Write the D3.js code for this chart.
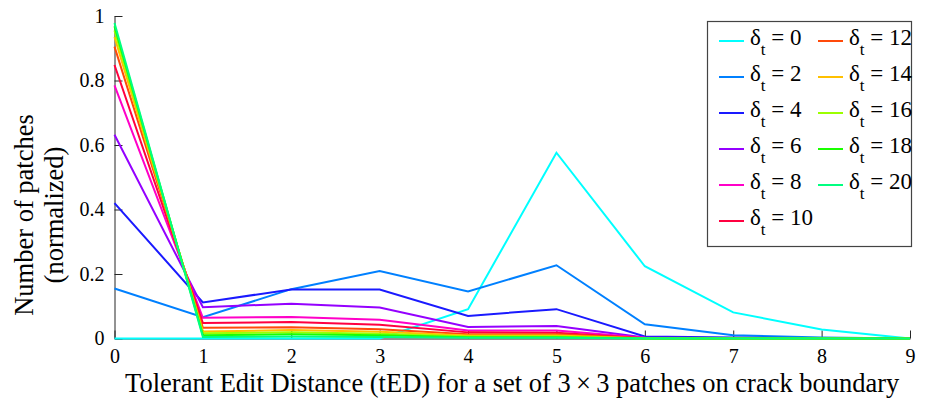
<!DOCTYPE html>
<html>
<head>
<meta charset="utf-8">
<script src="https://cdn.jsdelivr.net/npm/d3@7"></script>
<style>
  body { margin: 0; background: #fff; }
  svg text { font-family: "Liberation Serif", "Times New Roman", serif; }
</style>
</head>
<body>
<svg id="chart" width="926" height="407"></svg>
<script>
// tolerant edit distance bins
const distances = [0, 1, 2, 3, 4, 5, 6, 7, 8, 9];
const yTicks = [0, 0.2, 0.4, 0.6, 0.8, 1];

// normalized patch counts, one array per threshold delta_t
const delta0  = [0, 0, 0, 0, 0.091, 0.576, 0.224, 0.081, 0.028, 0];
const delta2  = [0.155, 0.066, 0.153, 0.209, 0.146, 0.227, 0.044, 0.010, 0.003, 0];
const delta4  = [0.420, 0.112, 0.152, 0.152, 0.070, 0.091, 0.006, 0.003, 0.001, 0];
const delta6  = [0.632, 0.097, 0.108, 0.096, 0.036, 0.039, 0.003, 0.001, 0, 0];
const delta8  = [0.785, 0.064, 0.067, 0.058, 0.025, 0.025, 0.002, 0, 0, 0];
const delta10 = [0.848, 0.048, 0.051, 0.043, 0.019, 0.018, 0.001, 0, 0, 0];
const delta12 = [0.905, 0.033, 0.035, 0.029, 0.013, 0.013, 0.001, 0, 0, 0];
const delta14 = [0.935, 0.022, 0.026, 0.021, 0.009, 0.009, 0, 0, 0, 0];
const delta16 = [0.955, 0.016, 0.019, 0.015, 0.006, 0.006, 0, 0, 0, 0];
const delta18 = [0.968, 0.010, 0.013, 0.010, 0.004, 0.004, 0, 0, 0, 0];
const delta20 = [0.978, 0.005, 0.006, 0.005, 0.002, 0.002, 0, 0, 0, 0];

const thresholds = [0, 2, 4, 6, 8, 10, 12, 14, 16, 18, 20];
const seriesValues = [delta0, delta2, delta4, delta6, delta8, delta10,
                      delta12, delta14, delta16, delta18, delta20];
const colors = ["#00ffff", "#0080ff", "#1a1aff", "#9400ff", "#ff00c8", "#ff0040",
                "#ff4a0a", "#ffc000", "#9cff00", "#1aff00", "#00ff80"];

const serif = '"Liberation Serif", "Times New Roman", serif';

const margin = {top: 16, right: 16, bottom: 68.5, left: 114.5};
const W = 926, H = 407;
const width = W - margin.left - margin.right,
      height = H - margin.top - margin.bottom;

const svg = d3.select("#chart");
const g = svg.append("g").attr("transform", "translate(" + margin.left + "," + margin.top + ")");

const x = d3.scaleLinear().domain([0, 9]).range([0, width]);
const y = d3.scaleLinear().domain([0, 1]).range([height, 0]);

// axes, ticks pointing inward like matlab
const xAxis = g.append("g")
  .call(d3.axisBottom(x).tickValues(distances).tickFormat(d3.format("d"))
        .tickSizeInner(-8).tickSizeOuter(0).tickPadding(10))
  .attr("transform", "translate(0," + height + ")");
const yAxis = g.append("g")
  .call(d3.axisLeft(y).tickValues(yTicks).tickFormat(d => d === 0 || d === 1 ? d : d3.format(".1f")(d))
        .tickSizeInner(-8).tickSizeOuter(0).tickPadding(10));

[xAxis, yAxis].forEach(a => {
  a.attr("font-family", serif).attr("font-size", 20);
  a.select(".domain").attr("stroke", "#262626");
  a.selectAll(".tick line").attr("stroke", "#262626");
  a.selectAll(".tick text").attr("fill", "#000");
});

// the lines
const line = d3.line()
  .x((d, i) => x(distances[i]))
  .y(d => y(d));

g.append("g").selectAll("path")
  .data(seriesValues)
  .enter().append("path")
  .attr("d", d => line(d))
  .attr("fill", "none")
  .attr("stroke", (d, i) => colors[i])
  .attr("stroke-width", 2)
  .attr("stroke-linejoin", "miter");

// axis titles
svg.append("text")
  .attr("x", margin.left + width / 2)
  .attr("y", 392)
  .attr("text-anchor", "middle")
  .attr("font-family", serif)
  .style("font-size", "26.5px")
  .text("Tolerant Edit Distance (tED) for a set of 3\u2009\u00d7\u20093 patches on crack boundary");

const yl = svg.append("text")
  .attr("transform", "translate(33,215) rotate(-90)")
  .attr("text-anchor", "middle")
  .attr("font-family", serif)
  .style("font-size", "26.5px");
yl.append("tspan").attr("x", 0).attr("dy", 0).text("Number of patches");
yl.append("tspan").attr("x", 0).attr("dy", 30).text("(normalized)");

// legend
const legend = svg.append("g").attr("font-family", serif);
legend.append("rect")
  .attr("x", 707.5).attr("y", 21.5)
  .attr("width", 204).attr("height", 225)
  .attr("fill", "#fff").attr("stroke", "#444").attr("stroke-width", 1.2);

thresholds.forEach((t, i) => {
  const col = Math.floor(i / 6), row = i % 6;
  const lx = 719 + col * 99, by = 45 + row * 36;
  legend.append("line")
    .attr("x1", lx).attr("x2", lx + 25)
    .attr("y1", by - 4).attr("y2", by - 4)
    .attr("stroke", colors[i]).attr("stroke-width", 2);
  const txt = legend.append("text")
    .attr("x", lx + 31).attr("y", by)
    .style("font-size", "23px");
  txt.append("tspan").text("\u03b4");
  txt.append("tspan").attr("dy", 10).style("font-size", "17px").text("t");
  txt.append("tspan").attr("dy", -10).text(" = " + t);
});
</script>
</body>
</html>
